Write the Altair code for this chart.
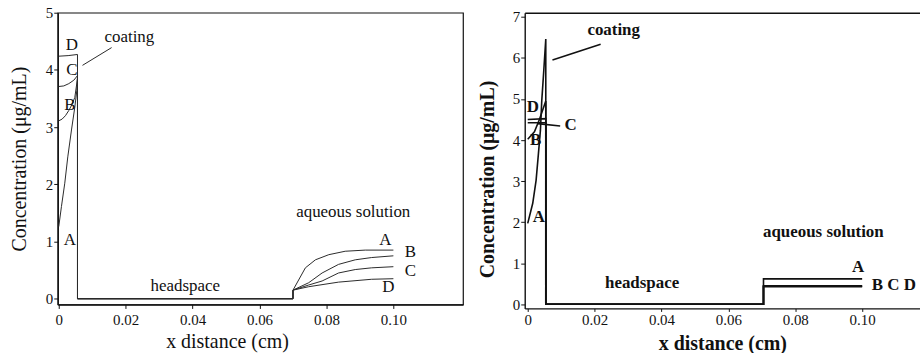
import altair as alt
import pandas as pd

# ---------------- data ----------------
# Left panel
LA_x = [0, 0.0008, 0.0018, 0.0027, 0.0038, 0.0048, 0.0054, 0.0056, 0.0056, 0.0700, 0.0700, 0.0737, 0.0767, 0.0807, 0.0856, 0.0916, 0.1000]
LA_y = [1.26, 1.61, 2.02, 2.48, 2.95, 3.35, 3.64, 3.88, 0, 0, 0.15, 0.54, 0.68, 0.77, 0.83, 0.85, 0.85]
LB_x = [0, 0.001, 0.002, 0.003, 0.004, 0.0048, 0.0056, 0.0056, 0.0700, 0.0700, 0.0747, 0.0787, 0.0836, 0.0886, 0.0935, 0.1000]
LB_y = [3.11, 3.14, 3.20, 3.29, 3.40, 3.52, 3.85, 0, 0, 0.15, 0.28, 0.45, 0.60, 0.68, 0.72, 0.75]
LC_x = [0, 0.0015, 0.003, 0.0045, 0.0056, 0.0056, 0.0700, 0.0700, 0.0747, 0.0787, 0.0836, 0.0886, 0.0935, 0.1000]
LC_y = [3.71, 3.72, 3.76, 3.82, 3.90, 0, 0, 0.15, 0.24, 0.31, 0.45, 0.51, 0.54, 0.56]
LD_x = [0, 0.0028, 0.0056, 0.0056, 0.0700, 0.0700, 0.0747, 0.0836, 0.0935, 0.1000]
LD_y = [4.24, 4.25, 4.27, 0, 0, 0.15, 0.21, 0.29, 0.34, 0.35]

# Right panel
RA_x = [0, 0.0015, 0.0025, 0.0032, 0.0038, 0.0042, 0.0048, 0.0054, 0.0054, 0.0705, 0.0705, 0.1000]
RA_y = [1.97, 2.46, 3.02, 3.67, 4.24, 4.96, 5.69, 6.46, 0, 0, 0.62, 0.62]
RB_x = [0, 0.002, 0.0035, 0.0054, 0.0054, 0.0705, 0.0705, 0.1000]
RB_y = [4.02, 4.20, 4.50, 4.95, 0, 0, 0.45, 0.45]
RC_x = [0, 0.0054, 0.0054, 0.0705, 0.0705, 0.1000]
RC_y = [4.42, 4.42, 0, 0, 0.44, 0.44]
RD_x = [0, 0.0054, 0.0054, 0.0705, 0.0705, 0.1000]
RD_y = [4.50, 4.52, 0, 0, 0.43, 0.43]

# annotation leader lines
L_lead_x = [0.0158, 0.0071]
L_lead_y = [4.39, 4.08]
R_lead_x = [0.0218, 0.0074]
R_lead_y = [6.33, 5.95]
R_cl_x = [0.0030, 0.0097]
R_cl_y = [4.40, 4.34]

# text labels
L_txt = ["coating", "D", "C", "B", "A", "A", "B", "C", "D", "headspace", "aqueous solution"]
L_txt_x = [0.0211, 0.0039, 0.0039, 0.0033, 0.0033, 0.0976, 0.1051, 0.1051, 0.0985, 0.0378, 0.0880]
L_txt_y = [4.58, 4.44, 3.99, 3.38, 1.03, 1.03, 0.81, 0.48, 0.21, 0.23, 1.52]
R_txt = ["coating", "D", "B", "A", "C", "aqueous solution", "A", "B C D", "headspace"]
R_txt_x = [0.0257, 0.0015, 0.0024, 0.0033, 0.0128, 0.0884, 0.0988, 0.1095, 0.0342]
R_txt_y = [6.67, 4.80, 4.00, 2.13, 4.36, 1.77, 0.92, 0.46, 0.51]

X_TICKS = [0, 0.02, 0.04, 0.06, 0.08, 0.10]


def series_frame(pairs):
    rows = []
    for name, xs, ys in pairs:
        for i, (xv, yv) in enumerate(zip(xs, ys)):
            rows.append({"s": name, "i": i, "x": xv, "y": yv})
    return pd.DataFrame(rows)


dfL = series_frame([("A", LA_x, LA_y), ("B", LB_x, LB_y), ("C", LC_x, LC_y), ("D", LD_x, LD_y),
                    ("lead", L_lead_x, L_lead_y)])
dfR = series_frame([("A", RA_x, RA_y), ("B", RB_x, RB_y), ("C", RC_x, RC_y), ("D", RD_x, RD_y),
                    ("lead", R_lead_x, R_lead_y), ("clead", R_cl_x, R_cl_y)])
tL = pd.DataFrame({"t": L_txt, "x": L_txt_x, "y": L_txt_y})
tR = pd.DataFrame({"t": R_txt, "x": R_txt_x, "y": R_txt_y})

FONT = "Liberation Serif"
label_expr = "datum.value == 0 ? '0' : format(datum.value, '.2f')"

# ---------------- left panel ----------------
xsL = alt.Scale(domain=[-0.0003, 0.1208], nice=False, zero=False)
ysL = alt.Scale(domain=[-0.1, 5.0], nice=False, zero=False)

left_lines = alt.Chart(dfL).mark_line(color="#2a2a2a", strokeWidth=1).encode(
    x=alt.X("x:Q", scale=xsL, axis=alt.Axis(values=X_TICKS, labelExpr=label_expr, title="x distance (cm)",
                                            grid=False, tickSize=4, labelPadding=4, titlePadding=4,
                                            titleX=170, labelFontSize=15, titleFontSize=20)),
    y=alt.Y("y:Q", scale=ysL, axis=alt.Axis(values=[0, 1, 2, 3, 4, 5], format="d",
                                            title="Concentration (μg/mL)",
                                            grid=False, tickSize=4, labelPadding=1, titlePadding=16,
                                            labelFontSize=15, titleFontSize=20)),
    detail="s:N",
    order="i:Q",
)
left_text = alt.Chart(tL).mark_text(font=FONT, fontSize=17, color="#111", baseline="middle").encode(
    x=alt.X("x:Q", scale=xsL), y=alt.Y("y:Q", scale=ysL), text="t:N"
)
left = alt.layer(left_lines, left_text).properties(
    width=407, height=293, view=alt.ViewBackground(stroke="#111", strokeWidth=1.2)
)

# ---------------- right panel ----------------
xsR = alt.Scale(domain=[-0.0009, 0.1173], nice=False, zero=False)
ysR = alt.Scale(domain=[-0.1, 7.1], nice=False, zero=False)
yaxR = alt.Axis(values=[0, 1, 2, 3, 4, 5, 6, 7], format="d", title="Concentration (μg/mL)",
                grid=False, tickSize=4, labelPadding=1, titlePadding=15,
                titleY=167, labelFontSize=15, titleFontSize=20, titleFontWeight="bold")

right_lines = alt.Chart(dfR).mark_line(color="#111", strokeWidth=1.6).encode(
    x=alt.X("x:Q", scale=xsR, axis=alt.Axis(values=X_TICKS, labelExpr=label_expr, title="x distance (cm)",
                                            grid=False, tickSize=3, labelPadding=1, titlePadding=6,
                                            labelFontSize=15, titleFontSize=20, titleFontWeight="bold")),
    y=alt.Y("y:Q", scale=ysR, axis=yaxR),
    detail="s:N",
    order="i:Q",
)
right_top = alt.Chart(dfR).mark_line(opacity=0).encode(
    x=alt.X("x:Q", scale=xsR, axis=alt.Axis(orient="top", labels=False, ticks=False, title=None, grid=False,
                                            domainWidth=1.6)),
    y=alt.Y("y:Q", scale=ysR, axis=yaxR),
    detail="s:N",
    order="i:Q",
)
right_text = alt.Chart(tR).mark_text(font=FONT, fontSize=17, fontWeight="bold", color="#111",
                                     baseline="middle").encode(
    x=alt.X("x:Q", scale=xsR, axis=None), y=alt.Y("y:Q", scale=ysR, axis=yaxR), text="t:N"
)
right = alt.layer(right_lines, right_top, right_text).resolve_axis(x="independent").properties(
    width=397, height=297, view=alt.ViewBackground(stroke=None)
)

chart = alt.hconcat(left, right, spacing=13).properties(
    padding={"left": 8, "top": 4, "right": 0, "bottom": 0}
).configure_axis(
    labelFont=FONT, titleFont=FONT, labelColor="#111", titleColor="#111", domainColor="#111",
    tickColor="#111", domainWidth=1.4, titleFontWeight="normal"
).configure_view(stroke=None)

chart.save("out.html", embed_options={"renderer": "svg", "actions": False})
